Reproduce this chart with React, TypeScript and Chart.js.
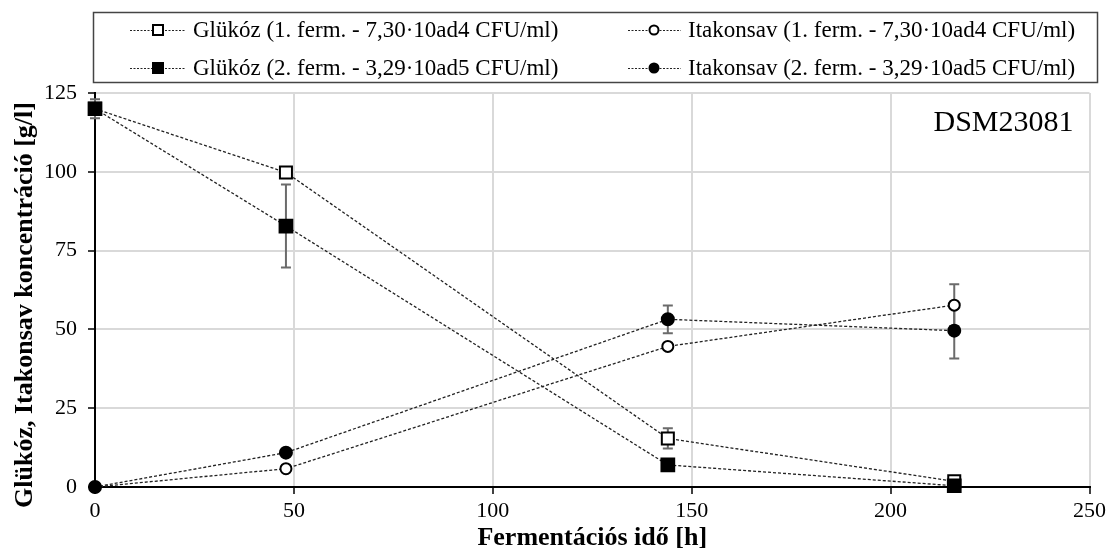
import React, { useEffect, useRef } from 'react';
import { Chart, registerables } from 'chart.js';

Chart.register(...registerables);

const FONT = "'Liberation Serif', 'Times New Roman', serif";

const times = [0, 48, 144, 216];
const glucose1 = [120, 99.8, 15.4, 1.8];
const glucose1Err = [1, 1, 3.2, 1];
const glucose2 = [120, 82.8, 7.0, 0.4];
const glucose2Err = [3, 13.2, 1.5, 0.5];
const itaconic1 = [0, 5.8, 44.6, 57.7];
const itaconic1Err = [0, 0.5, 1, 6.6];
const itaconic2 = [0, 10.9, 53.2, 49.6];
const itaconic2Err = [0, 1, 4.4, 8.8];

const seriesLabels = [
  'Glükóz (1. ferm. - 7,30·10ad4 CFU/ml)',
  'Itakonsav (1. ferm. - 7,30·10ad4 CFU/ml)',
  'Glükóz (2. ferm. - 3,29·10ad5 CFU/ml)',
  'Itakonsav (2. ferm. - 3,29·10ad5 CFU/ml)',
];
const xTitle = 'Fermentációs idő [h]';
const yTitle = 'Glükóz, Itakonsav koncentráció [g/l]';
const strainLabel = 'DSM23081';

type Marker = { style: 'rect' | 'circle'; filled: boolean };

const markers: Marker[] = [
  { style: 'rect', filled: false },
  { style: 'circle', filled: false },
  { style: 'rect', filled: true },
  { style: 'circle', filled: true },
];

function drawMarker(ctx: CanvasRenderingContext2D, m: Marker, x: number, y: number, size: number) {
  ctx.save();
  ctx.lineWidth = 2;
  ctx.strokeStyle = '#000';
  ctx.fillStyle = m.filled ? '#000' : '#fff';
  ctx.setLineDash([]);
  ctx.beginPath();
  if (m.style === 'rect') {
    ctx.rect(x - size / 2, y - size / 2, size, size);
  } else {
    ctx.arc(x, y, size / 2, 0, Math.PI * 2);
  }
  ctx.fill();
  ctx.stroke();
  ctx.restore();
}

const errorBarPlugin = {
  id: 'errorBars',
  beforeDatasetsDraw(chart: any) {
    const ctx = chart.ctx as CanvasRenderingContext2D;
    const xs = chart.scales.x;
    const ys = chart.scales.y;
    ctx.save();
    ctx.strokeStyle = '#6b6b6b';
    ctx.lineWidth = 2;
    chart.data.datasets.forEach((ds: any) => {
      const errs: number[] = ds.errors || [];
      ds.data.forEach((p: any, j: number) => {
        const e = errs[j] || 0;
        if (e <= 0) return;
        const x = xs.getPixelForValue(p.x);
        const yTop = ys.getPixelForValue(p.y + e);
        const yBot = ys.getPixelForValue(p.y - e);
        ctx.beginPath();
        ctx.moveTo(x, yTop);
        ctx.lineTo(x, yBot);
        ctx.moveTo(x - 5, yTop);
        ctx.lineTo(x + 5, yTop);
        ctx.moveTo(x - 5, yBot);
        ctx.lineTo(x + 5, yBot);
        ctx.stroke();
      });
    });
    ctx.restore();
  },
};

const annotationsPlugin = {
  id: 'annotations',
  afterDraw(chart: any) {
    const ctx = chart.ctx as CanvasRenderingContext2D;
    const area = chart.chartArea;
    ctx.save();
    // legend box
    ctx.strokeStyle = '#444';
    ctx.lineWidth = 1.5;
    ctx.strokeRect(93.5, 12.5, 1004, 70);
    const cols = [
      { lineStart: 130, marker: 158, lineEnd: 186, text: 193 },
      { lineStart: 628, marker: 654, lineEnd: 681, text: 688 },
    ];
    const rows = [30, 68];
    ctx.font = `23px ${FONT}`;
    ctx.textBaseline = 'middle';
    ctx.textAlign = 'left';
    seriesLabels.forEach((label, i) => {
      const c = cols[i % 2];
      const y = rows[Math.floor(i / 2)];
      ctx.save();
      ctx.strokeStyle = '#222';
      ctx.lineWidth = 1.2;
      ctx.setLineDash([2, 1.5]);
      ctx.beginPath();
      ctx.moveTo(c.lineStart, y + 0.5);
      ctx.lineTo(c.lineEnd, y + 0.5);
      ctx.stroke();
      ctx.restore();
      drawMarker(ctx, markers[i], c.marker, y, i % 2 === 0 ? 10 : 9);
      ctx.fillStyle = '#000';
      ctx.fillText(label, c.text, y + 1);
    });
    // strain label
    ctx.font = `30px ${FONT}`;
    ctx.textAlign = 'right';
    ctx.textBaseline = 'middle';
    ctx.fillStyle = '#000';
    ctx.fillText(strainLabel, area.right - 16, 123);
    // axis titles
    ctx.font = `bold 26px ${FONT}`;
    ctx.textAlign = 'center';
    ctx.textBaseline = 'middle';
    ctx.fillText(xTitle, (area.left + area.right) / 2, 538);
    ctx.save();
    ctx.translate(25, 305);
    ctx.rotate(-Math.PI / 2);
    ctx.fillText(yTitle, 0, 0);
    ctx.restore();
    ctx.restore();
  },
};

function makeData(values: number[]) {
  return times.map((t, i) => ({ x: t, y: values[i] }));
}

export default function App() {
  const ref = useRef<HTMLCanvasElement>(null);
  useEffect(() => {
    if (!ref.current) return;
    Chart.defaults.font.family = FONT;
    const lineCommon = {
      showLine: true,
      clip: false,
      borderColor: '#222',
      borderWidth: 1.3,
      borderDash: [3, 2],
      pointBorderColor: '#000',
      pointBorderWidth: 2,
      pointHoverRadius: 6,
    };
    const chart = new Chart(ref.current, {
      type: 'scatter',
      data: {
        datasets: [
          {
            ...lineCommon,
            label: seriesLabels[0],
            data: makeData(glucose1),
            errors: glucose1Err,
            order: 2,
            pointStyle: 'rect',
            pointRadius: 8.5,
            pointBackgroundColor: '#fff',
          } as any,
          {
            ...lineCommon,
            label: seriesLabels[1],
            data: makeData(itaconic1),
            errors: itaconic1Err,
            order: 2,
            pointStyle: 'circle',
            pointRadius: 5.5,
            pointBackgroundColor: '#fff',
          } as any,
          {
            ...lineCommon,
            label: seriesLabels[2],
            data: makeData(glucose2),
            errors: glucose2Err,
            order: 1,
            pointStyle: 'rect',
            pointRadius: 9,
            pointBackgroundColor: '#000',
          } as any,
          {
            ...lineCommon,
            label: seriesLabels[3],
            data: makeData(itaconic2),
            errors: itaconic2Err,
            order: 1,
            pointStyle: 'circle',
            pointRadius: 6,
            pointBackgroundColor: '#000',
          } as any,
        ],
      },
      options: {
        responsive: false,
        animation: false,
        events: [],
        layout: { padding: { top: 93, right: 18, left: 0, bottom: 0 } },
        plugins: {
          legend: { display: false },
          tooltip: { enabled: false },
        },
        scales: {
          x: {
            type: 'linear',
            min: 0,
            max: 250,
            ticks: { stepSize: 50, color: '#000', font: { size: 22, family: FONT }, padding: 4, maxRotation: 0 },
            grid: { color: '#d9d9d9', lineWidth: 2, tickColor: '#000', tickLength: 7, tickWidth: 1.5 },
            border: { color: '#000', width: 2 },
            afterFit: (s: any) => { s.height = 73; },
          },
          y: {
            type: 'linear',
            min: 0,
            max: 125,
            ticks: { stepSize: 25, color: '#000', font: { size: 22, family: FONT }, padding: 11 },
            grid: { color: '#d9d9d9', lineWidth: 2, tickColor: '#000', tickLength: 7, tickWidth: 1.5 },
            border: { color: '#000', width: 2 },
            afterFit: (s: any) => { s.width = 95; },
          },
        },
      },
      plugins: [errorBarPlugin, annotationsPlugin],
    });
    return () => chart.destroy();
  }, []);
  return (
    <div style={{ position: 'fixed', left: 0, top: 0, width: 1110, height: 560, background: '#fff' }}>
      <canvas ref={ref} width={1110} height={560} style={{ display: 'block' }} />
    </div>
  );
}
